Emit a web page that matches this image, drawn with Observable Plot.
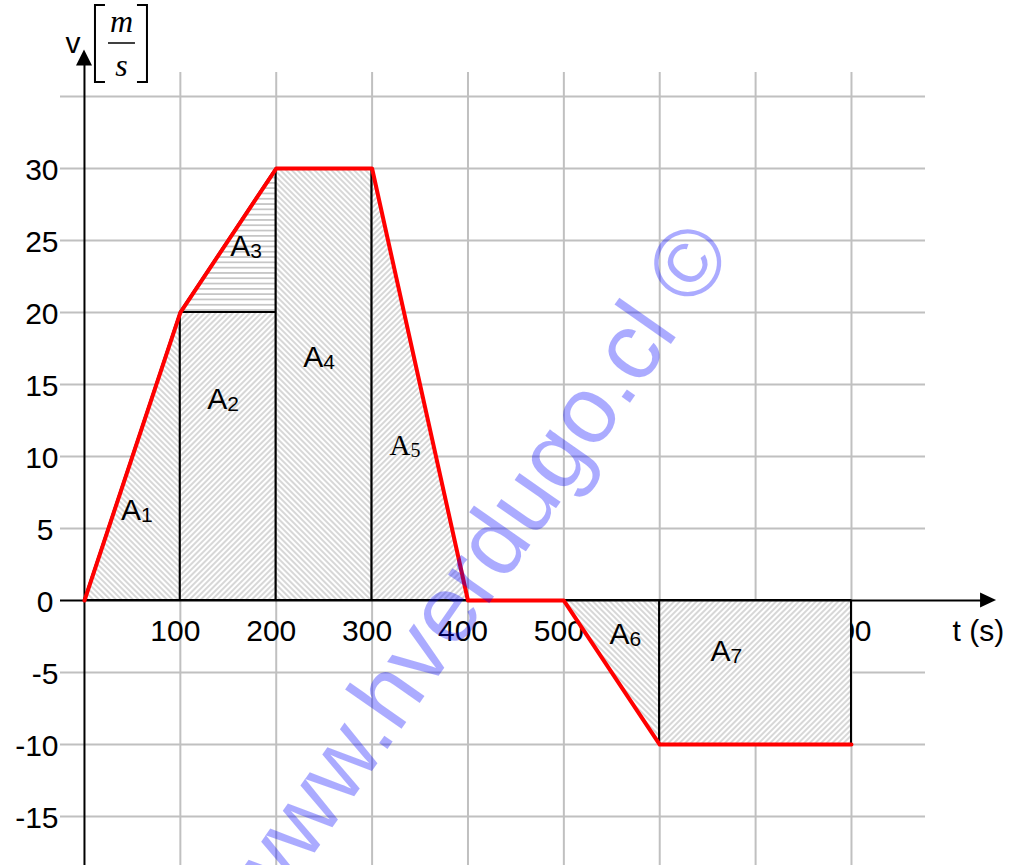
<!DOCTYPE html>
<html>
<head>
<meta charset="utf-8">
<script src="https://cdn.jsdelivr.net/npm/d3@7"></script>
<script src="https://cdn.jsdelivr.net/npm/@observablehq/plot@0.6"></script>
<style>
  html, body { margin: 0; padding: 0; background: #ffffff; }
  #chart svg { display: block; }
</style>
</head>
<body>
<div id="chart"></div>
<script>
// ---------------- data ----------------
const times  = [0, 100, 200, 300, 400, 500, 600, 800];   // t (s)
const speeds = [0, 20, 30, 30, 0, 0, -10, -10];          // v (m/s)

const xTicks      = [100, 200, 300, 400, 500, 600, 700, 800];
const xTickLabels = ["100", "200", "300", "400", "500", "600", "700", "800"];
const yTicks      = [-15, -10, -5, 0, 5, 10, 15, 20, 25, 30];
const yTickLabels = ["-15", "-10", "-5", "0", "5", "10", "15", "20", "25", "30"];
const xGrid = [100, 200, 300, 400, 500, 600, 700, 800];
const yGrid = [-15, -10, -5, 5, 10, 15, 20, 25, 30, 35];

const regionNames = ["A1", "A2", "A3", "A4", "A5", "A6", "A7"];
const regionSubs  = ["1", "2", "3", "4", "5", "6", "7"];
const regionT     = [[0, 100], [100, 200], [100, 200], [200, 300], [300, 400], [500, 600], [600, 800]];
const regionLow   = [[0, 0], [0, 0], [20, 20], [0, 0], [0, 0], [0, 0], [0, 0]];
const regionHigh  = [[0, 20], [20, 20], [20, 30], [30, 30], [30, 0], [0, -10], [-10, -10]];
const regionHatch = ["back", "fwd", "horiz", "back", "fwd", "back", "fwd"];
const labelX      = [59, 149, 173, 249, 340, 568.5, 673.8];
const labelY      = [5.6, 13.3, 23.9, 16.2, 10.1, -3.0, -4.17];
const labelSerif  = [false, false, false, false, true, false, false];

const watermark = "www.hverdugo.cl \u00A9";

// ---------------- layout ----------------
const W = 1010, H = 865;
const X_FRAME = [-25, 877.2];
const Y_FRAME = [-18.4, 36.67];
const X_AXIS_END = 951.3;
const Y_AXIS_END = 38.24;
const SANS = "'Liberation Sans', Arial, Helvetica, sans-serif";
const SERIF = "'Liberation Serif', 'Times New Roman', Times, serif";
const GRID = "#c0c0c0";

const profile = times.map((t, i) => ({t, v: speeds[i]}));
const labels = regionNames.map((name, i) => ({name, sub: regionSubs[i], x: labelX[i], y: labelY[i], serif: labelSerif[i]}));

const regionMarks = regionNames.map((name, i) => Plot.areaY(
  regionT[i].map((t, j) => ({t, lo: regionLow[i][j], hi: regionHigh[i][j]})),
  {x: "t", y1: "lo", y2: "hi", fill: `url(#hatch-${regionHatch[i]})`,
   stroke: "black", strokeWidth: 2, strokeLinejoin: "miter"}
));

function labelMarks(serif) {
  const data = labels.filter(d => d.serif === serif);
  const fam = serif ? SERIF : SANS;
  return [
    Plot.text(data, {x: "x", y: "y", text: () => "A", textAnchor: "end", lineAnchor: "bottom",
      fontSize: serif ? 29 : 30, fontFamily: fam, fill: "black"}),
    Plot.text(data, {x: "x", y: "y", text: "sub", textAnchor: "start", lineAnchor: "bottom",
      dy: 2, fontSize: serif ? 20 : 21, fontFamily: fam, fill: "black"})
  ];
}

const plot = Plot.plot({
  width: W, height: H,
  marginLeft: 60, marginRight: 85, marginTop: 72, marginBottom: 0,
  x: {domain: X_FRAME, axis: null},
  y: {domain: Y_FRAME, axis: null},
  style: {fontFamily: SANS, background: "white", overflow: "hidden"},
  marks: [
    // grid
    Plot.ruleX(xGrid, {x: d => d, y1: Y_FRAME[0], y2: Y_FRAME[1], stroke: GRID, strokeWidth: 2}),
    Plot.ruleY(yGrid, {y: d => d, x1: X_FRAME[0], x2: X_FRAME[1], stroke: GRID, strokeWidth: 2}),
    // x tick labels (drawn beneath the shaded areas)
    Plot.text(xTicks, {x: d => d, y: 0, text: (d, i) => xTickLabels[i], dx: -5, dy: 40,
      lineAnchor: "bottom", fontSize: 30, fill: "black"}),
    // shaded areas
    ...regionMarks,
    // axes
    Plot.ruleY([0], {x1: X_FRAME[0], x2: X_AXIS_END - 10, stroke: "black", strokeWidth: 2}),
    Plot.ruleX([0], {y1: Y_FRAME[0], y2: Y_AXIS_END - 0.7, stroke: "black", strokeWidth: 2}),
    // velocity profile
    Plot.line(profile, {x: "t", y: "v", stroke: "#ff0000", strokeWidth: 4, strokeLinejoin: "round"}),
    // area labels
    ...labelMarks(false),
    ...labelMarks(true),
    // y tick labels
    Plot.text(yTicks, {x: X_FRAME[0], y: d => d, text: (d, i) => yTickLabels[i],
      filter: (d, i) => yTickLabels[i].length > 1,
      textAnchor: "end", dx: -2, dy: 11.5, lineAnchor: "bottom", fontSize: 30, fill: "black"}),
    Plot.text(yTicks, {x: X_FRAME[0], y: d => d, text: (d, i) => yTickLabels[i],
      filter: (d, i) => yTickLabels[i].length === 1,
      textAnchor: "end", dx: -7, dy: 11.5, lineAnchor: "bottom", fontSize: 30, fill: "black"}),
    // axis titles
    Plot.text(["t (s)"], {x: 905.4, y: 0, text: d => d, textAnchor: "start", dy: 40,
      lineAnchor: "bottom", fontSize: 30, fill: "black"}),
    Plot.text(["v"], {x: -12, y: 38, text: d => d, textAnchor: "middle",
      lineAnchor: "bottom", fontSize: 30, fill: "black"}),
    // watermark
    Plot.text([watermark], {x: 190.9, y: -22.2, text: d => d, rotate: -55, textAnchor: "start",
      lineAnchor: "bottom", fontSize: 95, fontFamily: SANS, fill: "#0000ff", fillOpacity: 0.33})
  ]
});

// ---------------- decorations ----------------
const svg = d3.select(plot);
const defs = svg.insert("defs", ":first-child");
function hatch(id, angle, spacing, width) {
  const p = defs.append("pattern").attr("id", id)
    .attr("patternUnits", "userSpaceOnUse")
    .attr("width", spacing).attr("height", spacing)
    .attr("patternTransform", `rotate(${angle})`);
  p.append("rect").attr("width", spacing).attr("height", spacing).attr("fill", "white");
  p.append("line").attr("x1", 0).attr("x2", spacing)
    .attr("y1", spacing / 2).attr("y2", spacing / 2)
    .attr("stroke", "#c6c6c6").attr("stroke-width", width);
}
hatch("hatch-back", 45, 4, 1.4);
hatch("hatch-fwd", -45, 4, 1.4);
hatch("hatch-horiz", 0, 5.3, 1.8);

const sx = plot.scale("x"), sy = plot.scale("y");
// arrowheads
const xtX = sx.apply(X_AXIS_END), xtY = sy.apply(0);
svg.append("path").attr("d", `M${xtX},${xtY} L${xtX - 16},${xtY - 7.5} L${xtX - 16},${xtY + 7.5} Z`).attr("fill", "black");
const ytX = sx.apply(0), ytY = sy.apply(Y_AXIS_END);
svg.append("path").attr("d", `M${ytX},${ytY} L${ytX - 8},${ytY + 16} L${ytX + 8},${ytY + 16} Z`).attr("fill", "black");

// unit [m/s]
const ax = ytX;
const u = svg.append("g");
u.append("path").attr("d", `M${ax + 21},5 H${ax + 11} V82 H${ax + 21}`)
  .attr("fill", "none").attr("stroke", "black").attr("stroke-width", 2);
u.append("path").attr("d", `M${ax + 53},5 H${ax + 63} V82 H${ax + 53}`)
  .attr("fill", "none").attr("stroke", "black").attr("stroke-width", 2);
u.append("line").attr("x1", ax + 24).attr("x2", ax + 51).attr("y1", 43).attr("y2", 43)
  .attr("stroke", "black").attr("stroke-width", 1.5);
u.append("text").attr("x", ax + 37.5).attr("y", 32).attr("text-anchor", "middle")
  .attr("font-family", SERIF).attr("font-style", "italic").attr("font-size", 32).text("m");
u.append("text").attr("x", ax + 37.5).attr("y", 76).attr("text-anchor", "middle")
  .attr("font-family", SERIF).attr("font-style", "italic").attr("font-size", 32).text("s");

document.getElementById("chart").appendChild(plot);
</script>
</body>
</html>
